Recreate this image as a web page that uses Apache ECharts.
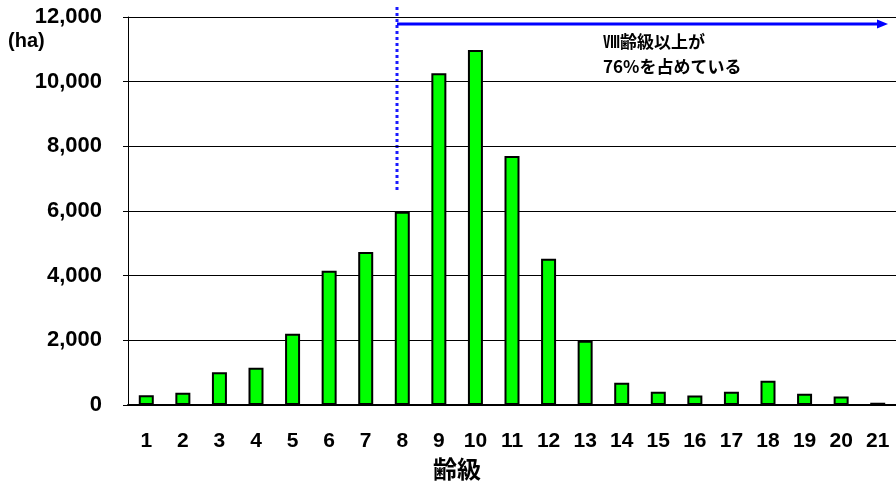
<!DOCTYPE html>
<html>
<head>
<meta charset="utf-8">
<script src="https://cdn.jsdelivr.net/npm/echarts@6/dist/echarts.min.js"></script>
<style>
  html, body { margin: 0; padding: 0; background: #fff; }
  #chart { width: 896px; height: 484px; }
</style>
</head>
<body>
<div id="chart"></div>
<script>
// Age classes (齢級) 1–21
const ageClasses = ['1','2','3','4','5','6','7','8','9','10','11','12','13','14','15','16','17','18','19','20','21'];
// Forest area per age class (ha)
const areaHa = [300, 380, 1010, 1150, 2200, 4150, 4730, 5980, 10260, 10980, 7700, 4520, 1990, 690, 410, 290, 410, 750, 350, 260, 70];
// Value axis ticks
const yMin = 0, yMax = 12000, yStep = 2000;

const numFont = '"Liberation Sans", Arial, sans-serif';
const jpFont = '"Noto Sans CJK JP", sans-serif';

const chart = echarts.init(document.getElementById('chart'), null, { renderer: 'canvas' });

chart.setOption({
  animation: false,
  backgroundColor: '#ffffff',
  grid: { left: 128, top: 17, width: 774, height: 388, containLabel: false },
  xAxis: {
    type: 'category',
    data: ageClasses,
    axisLine: { show: true, lineStyle: { color: '#000', width: 2 } },
    axisTick: { show: false },
    axisLabel: {
      color: '#000', fontFamily: numFont, fontWeight: 'bold', fontSize: 21, margin: 26
    }
  },
  yAxis: {
    type: 'value',
    min: yMin, max: yMax, interval: yStep,
    axisLine: { show: true, lineStyle: { color: '#000', width: 1 } },
    axisTick: { show: true, length: 5, lineStyle: { color: '#000', width: 1 } },
    splitLine: { show: true, lineStyle: { color: '#000', width: 1 } },
    axisLabel: {
      color: '#000', fontFamily: numFont, fontWeight: 'bold', fontSize: 22, margin: 26,
      formatter: v => v.toLocaleString('en-US')
    }
  },
  series: [{
    type: 'bar',
    data: areaHa,
    barWidth: 15,
    itemStyle: { color: '#00ff00', borderColor: '#000', borderWidth: 2 }
  }],
  graphic: [
    // unit label for the value axis
    { type: 'text', left: 8, top: 31,
      style: { text: '(ha)', fill: '#000', font: 'bold 20px ' + numFont } },
    // category axis title
    { type: 'text', left: 433, top: 457,
      style: { text: '齢級', fill: '#000', font: 'bold 24px ' + jpFont } },
    // dotted boundary at age class VIII
    { type: 'line', shape: { x1: 397, y1: 7, x2: 397, y2: 190 },
      style: { stroke: '#1a1aff', lineWidth: 3, lineDash: [3, 3] } },
    // arrow spanning age classes VIII and above
    { type: 'line', shape: { x1: 397, y1: 24, x2: 879, y2: 24 },
      style: { stroke: '#0000ff', lineWidth: 3 } },
    { type: 'polygon', shape: { points: [[877, 19.5], [888, 24], [877, 28.5]] },
      style: { fill: '#0000ff' } },
    // annotation text
    { type: 'text', left: 603, top: 29,
      style: { text: 'Ⅷ齢級以上が\n76%を占めている', fill: '#000',
               font: 'bold 17px ' + jpFont, lineHeight: 25 } }
  ]
});
</script>
</body>
</html>
